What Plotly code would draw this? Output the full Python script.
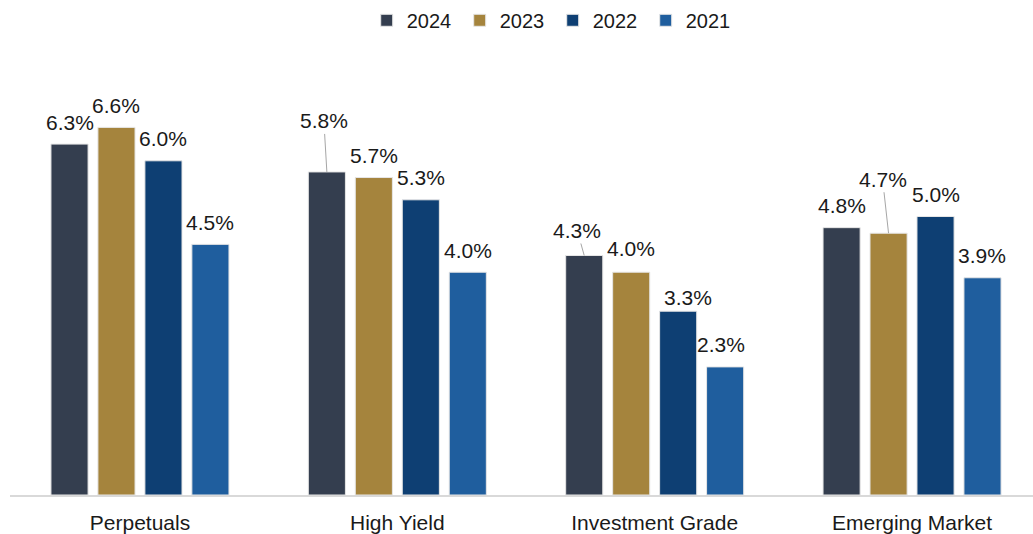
import plotly.graph_objects as go

categories = ["Perpetuals", "High Yield", "Investment Grade", "Emerging Market"]
years = ["2024", "2023", "2022", "2021"]
values_2024 = [6.3, 5.8, 4.3, 4.8]
values_2023 = [6.6, 5.7, 4.0, 4.7]
values_2022 = [6.0, 5.3, 3.3, 5.0]
values_2021 = [4.5, 4.0, 2.3, 3.9]
series = [values_2024, values_2023, values_2022, values_2021]

colors = ["#343E4F", "#A5843D", "#0E3F73", "#1F5E9E"]

# label styling keyed by (series index, category index): (xshift, yshift) in px
label_shift = {
    (1, 2): (0, 24),
    (2, 2): (10, 14),
    (3, 2): (-4, 22),
}
# leader-line offsets (ax, ay) in px
leaders = {
    (0, 1): (-3, -51),
    (0, 2): (-7, -25),
    (1, 3): (-6, -54),
}

BARGAP = 0.27
GROUPGAP = 0.21
FONT = "Liberation Sans, Arial, sans-serif"
TXT = "#1a1a1a"

fig = go.Figure()
xs = list(range(len(categories)))
for s, (yr, vals, c) in enumerate(zip(years, series, colors)):
    fig.add_trace(go.Bar(
        x=xs, y=vals, name=yr,
        marker=dict(color=c, line=dict(color="#e6e6e6", width=1)),
        hoverinfo="skip",
    ))

n = len(years)
slot = (1 - BARGAP) / n
for s, vals in enumerate(series):
    off = -(1 - BARGAP) / 2 + slot * (s + 0.5)
    for i, v in enumerate(vals):
        key = (s, i)
        text = f"{v:.1f}%"
        if key in leaders:
            ax, ay = leaders[key]
            fig.add_annotation(
                x=i + off, y=v, xref="x", yref="y", text=text,
                showarrow=True, arrowhead=0, arrowwidth=1, arrowcolor="#a6a6a6",
                ax=ax, ay=ay, standoff=0,
                font=dict(family=FONT, size=21, color=TXT),
            )
        else:
            xsft, ysft = label_shift.get(key, (0, 22))
            fig.add_annotation(
                x=i + off, y=v, xref="x", yref="y", text=text,
                showarrow=False, xshift=xsft, yshift=ysft,
                xanchor="center", yanchor="middle",
                font=dict(family=FONT, size=21, color=TXT),
            )

fig.update_layout(
    width=1033, height=534,
    template="none",
    barmode="group", bargap=BARGAP, bargroupgap=GROUPGAP,
    paper_bgcolor="white", plot_bgcolor="white",
    margin=dict(l=10, r=0, t=60, b=39, pad=0),
    font=dict(family=FONT, size=21, color=TXT),
    showlegend=True,
    legend=dict(
        orientation="h", x=0.355, xanchor="left", y=0.962, yanchor="middle",
        yref="container", xref="container",
        font=dict(family=FONT, size=20, color=TXT),
        entrywidth=48, entrywidthmode="pixels", itemwidth=30,
        traceorder="normal", bgcolor="rgba(0,0,0,0)",
    ),
    xaxis=dict(
        tickmode="array", tickvals=xs, ticktext=categories,
        range=[-0.505, 3.47], showgrid=False, zeroline=False,
        showline=True, linecolor="#d9d9d9", linewidth=2,
        ticks="", ticklabelstandoff=8, automargin=False,
        tickfont=dict(family=FONT, size=21, color=TXT), fixedrange=True,
    ),
    yaxis=dict(
        range=[0, 7.81], visible=False, showgrid=False, zeroline=False,
        automargin=False, fixedrange=True,
    ),
)

fig.write_html("out.html")
